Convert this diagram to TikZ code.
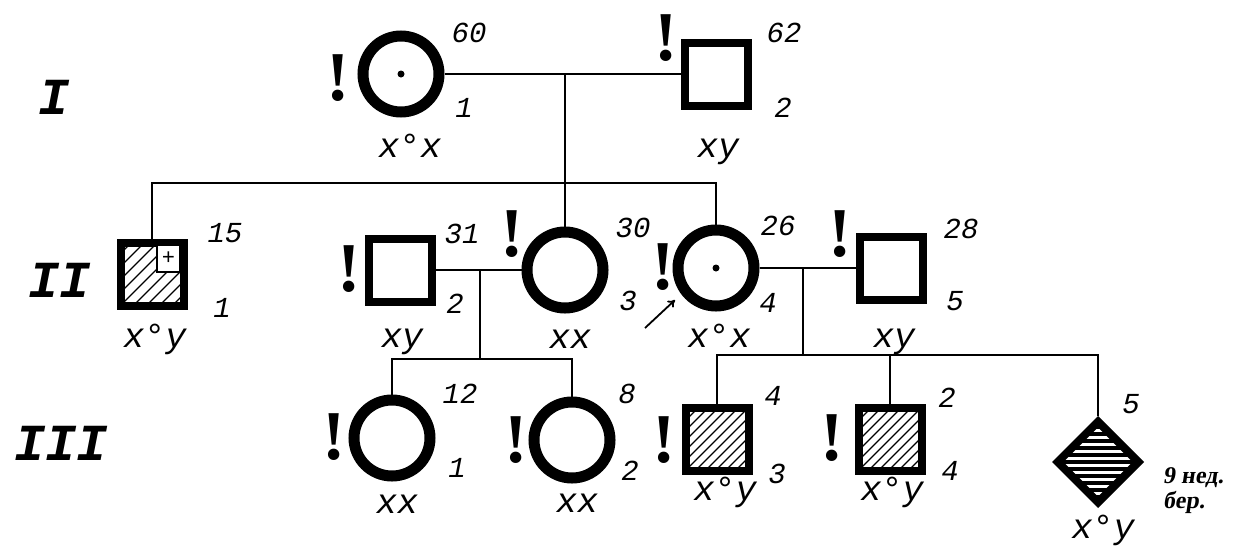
\documentclass[tikz,border=0pt]{standalone}
\usepackage{fontspec}
\newfontfamily\lblfont{Liberation Mono}
\newfontfamily\exfont{Liberation Serif}
\newfontfamily\rusfont{Liberation Serif}[FakeSlant=0.15]
\usetikzlibrary{shapes.geometric,arrows.meta,calc}
\tikzset{
  conn/.style={line width=1.8pt},
  fem/.style={circle, draw, line width=11pt, minimum size=76pt, inner sep=0pt},
  mal/.style={rectangle, draw, line width=8pt, minimum size=63pt, inner sep=0pt},
  hatchA/.style={path picture={\foreach \i in {-104,-91,...,104} \draw[line width=1.4pt] ([xshift=\i pt]path picture bounding box.center) ++(-50,50) -- ++(100,-100);}},
  hatchB/.style={path picture={\foreach \i in {-100,-90,...,100} \draw[line width=1.3pt] ([xshift=\i pt]path picture bounding box.center) ++(-50,50) -- ++(100,-100);}},
  hatchH/.style={path picture={\foreach \j in {-49,-42,...,49} \draw[line width=3.2pt] ([yshift=\j pt]path picture bounding box.center) ++(-60,0) -- ++(120,0);}},
  dia/.style={diamond, aspect=1, draw, line width=8pt, minimum size=84pt, inner sep=0pt},
  dotnode/.style={circle, fill, minimum size=7pt, inner sep=0pt},
  num/.style={font=\lblfont\itshape\fontsize{29}{29}\selectfont, anchor=base, inner sep=0pt},
  geno/.style={font=\lblfont\itshape\fontsize{35}{35}\selectfont, anchor=base, inner sep=0pt},
  excl/.style={font=\exfont\bfseries\fontsize{70}{70}\selectfont, inner sep=0pt},
  gen/.style={font=\lblfont\bfseries\itshape\fontsize{52}{52}\selectfont, inner sep=0pt},
  note/.style={font=\rusfont\bfseries\fontsize{24}{24}\selectfont, anchor=base west, inner sep=0pt},
  plusbox/.style={rectangle, draw, fill=white, line width=1.3pt, minimum width=23pt, minimum height=27pt, inner sep=0pt, font=\lblfont\fontsize{22}{22}\selectfont}
}
\begin{document}
\begin{tikzpicture}[x=1pt,y=-1pt]
\useasboundingbox[fill=white] (0,0) rectangle (1256,555);
% generation labels
\node[gen] (gI) at (54,97) {I};
\node[gen] (gII) at (60,280) {II};
\node[gen] (gIII) at (61,443) {III};
% generation I
\node[fem] (I1) at (401,74) {};
\node[dotnode] (I1d) at (401,74) {};
\node[mal] (I2) at (716,74) {};
% generation II
\node[mal, hatchA] (II1) at (152,274) {};
\node[plusbox] (II1p) at (168.5,258.5) {+};
\node[mal] (II2) at (400,270) {};
\node[fem] (II3) at (565,270) {};
\node[fem] (II4) at (716,268) {};
\node[dotnode] (II4d) at (716,268) {};
\node[mal] (II5) at (891,268) {};
% generation III
\node[fem] (III1) at (392,438) {};
\node[fem] (III2) at (572,440) {};
\node[mal, hatchB] (III3) at (717,439) {};
\node[mal, hatchB] (III4) at (890,439) {};
\node[dia, hatchH] (D) at (1098,462) {};
% connectors
\draw[conn] (I1) -- (I2);
\draw[conn] (I1 -| II3) -- (II3.north);
\coordinate (s1) at (565,183);
\draw[conn] (II1.north) |- (s1) -| (II4.north);
\draw[conn] (II2) -- (II3);
\coordinate (m2) at (480,270);
\coordinate (s2) at (480,359);
\draw[conn] (m2) -- (s2);
\draw[conn] (III1.north) |- (s2) -| (III2.north);
\draw[conn] (II4) -- (II5);
\coordinate (m3) at (803,268);
\coordinate (s3) at (803,355);
\draw[conn] (m3) -- (s3);
\draw[conn] (III3.north) |- (s3) -| (D.north);
\draw[conn] (III4.north) -- (III4.north |- s3);
\draw[line width=2.6pt] (D.north |- s3) -- (D.north);
% proband arrow
\coordinate (arS) at (645,328);
\coordinate (arE) at (675,300);
\draw[line width=1.8pt, -{To[length=7pt,width=9pt]}] (arS) -- (arE);
% exclamation marks
\node[excl] (e1) at (338,78) {!};
\node[excl] (e2) at (666,38) {!};
\node[excl] (e3) at (349,269) {!};
\node[excl] (e4) at (512,234) {!};
\node[excl] (e5) at (663,267) {!};
\node[excl] (e6) at (840,234) {!};
\node[excl] (e7) at (334,437) {!};
\node[excl] (e8) at (516,440) {!};
\node[excl] (e9) at (664,440) {!};
\node[excl] (e10) at (832,438) {!};
% numbers generation I
\node[num] (n1a) at (469,42) {60};
\node[num] (n1b) at (464,117) {1};
\node[num] (n2a) at (784,42) {62};
\node[num] (n2b) at (783,117) {2};
\node[geno] (g1) at (410,157) {x°x};
\node[geno] (g2) at (718,157) {xy};
% numbers generation II
\node[num] (n3a) at (225,242) {15};
\node[num] (n3b) at (222,317) {1};
\node[num] (n4a) at (462,243) {31};
\node[num] (n4b) at (455,313) {2};
\node[num] (n5a) at (633,237) {30};
\node[num] (n5b) at (628,310) {3};
\node[num] (n6a) at (778,235) {26};
\node[num] (n6b) at (768,312) {4};
\node[num] (n7a) at (961,238) {28};
\node[num] (n7b) at (955,310) {5};
\node[geno] (g3) at (155,347) {x°y};
\node[geno] (g4) at (402,347) {xy};
\node[geno] (g5) at (570,348) {xx};
\node[geno] (g6) at (719,347) {x°x};
\node[geno] (g7) at (894,347) {xy};
% numbers generation III
\node[num] (n8a) at (460,403) {12};
\node[num] (n8b) at (457,477) {1};
\node[num] (n9a) at (627,403) {8};
\node[num] (n9b) at (630,480) {2};
\node[num] (n10a) at (773,405) {4};
\node[num] (n10b) at (777,483) {3};
\node[num] (n11a) at (947,407) {2};
\node[num] (n11b) at (950,480) {4};
\node[num] (n12a) at (1131,413) {5};
\node[geno] (g8) at (397,513) {xx};
\node[geno] (g9) at (577,512) {xx};
\node[geno] (g10) at (725,500) {x°y};
\node[geno] (g11) at (892,500) {x°y};
\node[geno] (g12) at (1103,538) {x°y};
\node[note] (t1) at (1163,483) {9 нед.};
\node[note] (t2) at (1163,508) {бер.};
\end{tikzpicture}
\end{document}
